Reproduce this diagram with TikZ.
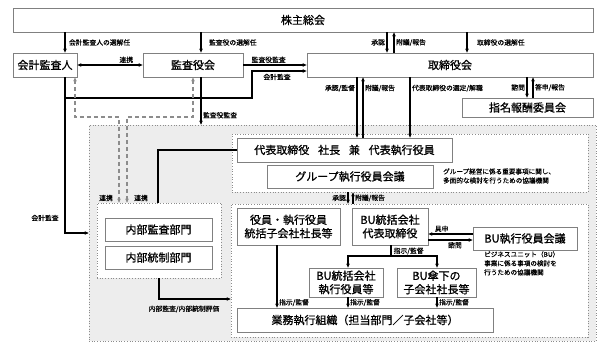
\documentclass[tikz,border=0pt]{standalone}
\usepackage{fontspec}
\setmainfont{Noto Sans CJK JP}
\newfontfamily\medfont[FakeBold=0.9]{Noto Sans CJK JP}
\newfontfamily\smlfont[FakeBold=0.4]{Noto Sans CJK JP}
\usetikzlibrary{arrows.meta}
\begin{document}
\begin{tikzpicture}[x=1pt,y=-1pt,
 box/.style={draw=black!50, line width=0.8pt, fill=white, inner sep=0pt, font=\fontsize{11}{13.5}\selectfont\medfont, align=center},
 lbl/.style={font=\fontsize{6.8}{8}\selectfont\smlfont, inner sep=1.5pt},
 desc/.style={font=\fontsize{6.6}{9}\selectfont\smlfont, inner sep=0pt, align=left},
 conn/.style={line width=1.1pt, -{Stealth[length=4pt,width=3.6pt]}},
 plain/.style={line width=1.1pt},
 grp/.style={draw=black!45, dotted, line width=0.7pt, inner sep=0pt},
 dsh/.style={draw=black!45, line width=1.4pt, dash pattern=on 4pt off 3pt, {Stealth[length=4pt,width=3.6pt]}-{Stealth[length=4pt,width=3.6pt]}}
]
\useasboundingbox (0,0) rectangle (613,345);

% regions
\node[grp, fill=black!7, minimum width=507pt, minimum height=216pt] (grayR) at (342.5,233) {};
\node[grp, fill=white, minimum width=356pt, minimum height=58pt] (upG) at (410,163) {};
\node[grp, fill=white, minimum width=124pt, minimum height=75pt] (leftG) at (159,240.5) {};
\node[grp, fill=white, minimum width=357pt, minimum height=133pt] (lowG) at (409.5,270.5) {};

% boxes
\node[box, minimum width=580pt, minimum height=24pt] (kabu) at (303,20) {株主総会};
\node[box, minimum width=64pt, minimum height=24pt] (kaikei) at (45,65) {会計監査人};
\node[box, minimum width=100pt, minimum height=24pt] (kansa) at (193,65) {監査役会};
\node[box, minimum width=286pt, minimum height=24pt] (tori) at (450,65) {取締役会};
\node[box, minimum width=131pt, minimum height=19pt] (shimei) at (527.5,107.5) {指名報酬委員会};
\node[box, minimum width=215pt, minimum height=24pt] (daihyo) at (344.5,150) {代表取締役\hspace{0.8em}社長\hspace{0.8em}兼\hspace{0.8em}代表執行役員};
\node[box, minimum width=166pt, minimum height=23pt] (group) at (350,176.5) {グループ執行役員会議};
\node[box, minimum width=107pt, minimum height=23pt] (naibu) at (158.5,229.5) {内部監査部門};
\node[box, minimum width=107pt, minimum height=23pt] (tousei) at (158.5,257.5) {内部統制部門};
\node[box, minimum width=103pt, minimum height=37pt] (yakuin) at (288.5,226.5) {役員・執行役員\\統括子会社社長等};
\node[box, minimum width=76pt, minimum height=37pt] (budai) at (390,226.5) {BU統括会社\\代表取締役};
\node[box, minimum width=104pt, minimum height=23pt] (bukai) at (525,238.5) {BU執行役員会議};
\node[box, minimum width=74pt, minimum height=29pt] (buexec) at (346,282.5) {BU統括会社\\執行役員等};
\node[box, minimum width=79pt, minimum height=29pt] (busub) at (436.5,282.5) {BU傘下の\\子会社社長等};
\node[box, minimum width=256pt, minimum height=24pt] (gyomu) at (365,320) {業務執行組織（担当部門／子会社等）};

% descriptions
\node[desc, anchor=west] (gdesc) at (443,176) {グループ経営に係る重要事項に関し、\\多面的な検討を行うための協議機関};
\node[desc, anchor=north west] (budesc) at (484,251) {ビジネスユニット（BU）\\事業に係る事項の検討を\\行うための協議機関};

% top connectors
\draw[conn] (65,0 |- kabu.south) -- (65,0 |- kaikei.north) node[lbl, midway, right, xshift=2pt] {会計監査人の選解任};
\draw[conn] (201,0 |- kabu.south) -- (201,0 |- kansa.north) node[lbl, midway, right, xshift=6pt] {監査役の選解任};
\draw[conn] (387,0 |- kabu.south) -- (387,0 |- tori.north) node[lbl, midway, left] {承認};
\draw[conn] (394,0 |- tori.north) -- (394,0 |- kabu.south) node[lbl, midway, right] {附議/報告};
\draw[conn] (467,0 |- kabu.south) -- (467,0 |- tori.north) node[lbl, midway, right, xshift=8pt] {取締役の選解任};

\draw[line width=1.1pt, {Stealth[length=4pt,width=3.6pt]}-{Stealth[length=4pt,width=3.6pt]}] (kaikei.east) -- (kansa.west) node[lbl, above, pos=0.75] {連携};
\draw[conn] (kansa.east) -- (tori.west) node[lbl, above, pos=0.4] {監査役監査};
\draw[conn] (65,0 |- kaikei.south) -- (65,98) -- (252,98) -- (252,71) -- (252,71 -| tori.west);
\node[lbl] (kl1) at (277,77) {会計監査};
\draw[conn] (65,0 |- kaikei.south) -- (65,233) -- (65,233 -| grayR.west);
\node[lbl] (kl2) at (45,218) {会計監査};
\draw[conn] (201,0 |- kansa.south) -- (201,0 |- grayR.north) node[lbl, right, pos=0.8] {監査役監査};

% dashed
\draw[dsh] (75,0 |- kaikei.south) -- (75,117) -- (119,117) -- (119,0 |- leftG.north);
\draw[dsh] (193,0 |- kansa.south) -- (193,117) -- (127,117) -- (127,0 |- leftG.north);
\node[lbl] (r1) at (106,198) {連携};
\node[lbl] (r2) at (141,198) {連携};

% board to exec
\draw[conn] (357,0 |- tori.south) -- (357,0 |- daihyo.north) node[lbl, left, pos=0.18] {承認/監督};
\draw[conn] (363,0 |- daihyo.north) -- (363,0 |- tori.south) node[lbl, right, pos=0.82] {附議/報告};
\draw[conn] (410,0 |- tori.south) -- (410,0 |- daihyo.north) node[lbl, right, pos=0.18] {代表取締役の選定/解職};
\draw[conn] (527,0 |- tori.south) -- (527,0 |- shimei.north) node[lbl, left, midway] {諮問};
\draw[conn] (533,0 |- shimei.north) -- (533,0 |- tori.south) node[lbl, right, midway] {答申/報告};

\draw[plain] (daihyo.west) -- (158,150) -- (158,0 |- leftG.north);

\draw[conn] (348,0 |- upG.south) -- (348,0 |- lowG.north) node[lbl, left, midway] {承認};
\draw[conn] (353,0 |- lowG.north) -- (353,0 |- upG.south) node[lbl, right, midway] {附議/報告};

% BU
\draw[conn] (bukai.west |- 0,234) -- (budai.east |- 0,234) node[lbl, above, pos=0.7] {具申};
\draw[conn] (budai.east |- 0,240) -- (bukai.west |- 0,240) node[lbl, below, pos=0.6] {諮問};
\draw[conn] (391,0 |- budai.south) -- (391,256) -- (348,256) -- (348,0 |- buexec.north);
\draw[conn] (391,256) -- (437,256) -- (437,0 |- busub.north);
\node[lbl, anchor=west] (sk1) at (392,251) {指示/監督};

\draw[conn] (277,0 |- yakuin.south) -- (277,0 |- gyomu.north) node[lbl, right, pos=0.92] {指示/監督};
\draw[conn] (348,0 |- buexec.south) -- (348,0 |- gyomu.north) node[lbl, right, midway] {指示/監督};
\draw[conn] (437,0 |- busub.south) -- (437,0 |- gyomu.north) node[lbl, right, midway] {指示/監督};

\draw[conn] (159,0 |- leftG.south) -- (159,299) -- (159,299 -| lowG.west);
\node[lbl] (ni) at (184,309) {内部監査/内部統制評価};
\end{tikzpicture}
\end{document}
